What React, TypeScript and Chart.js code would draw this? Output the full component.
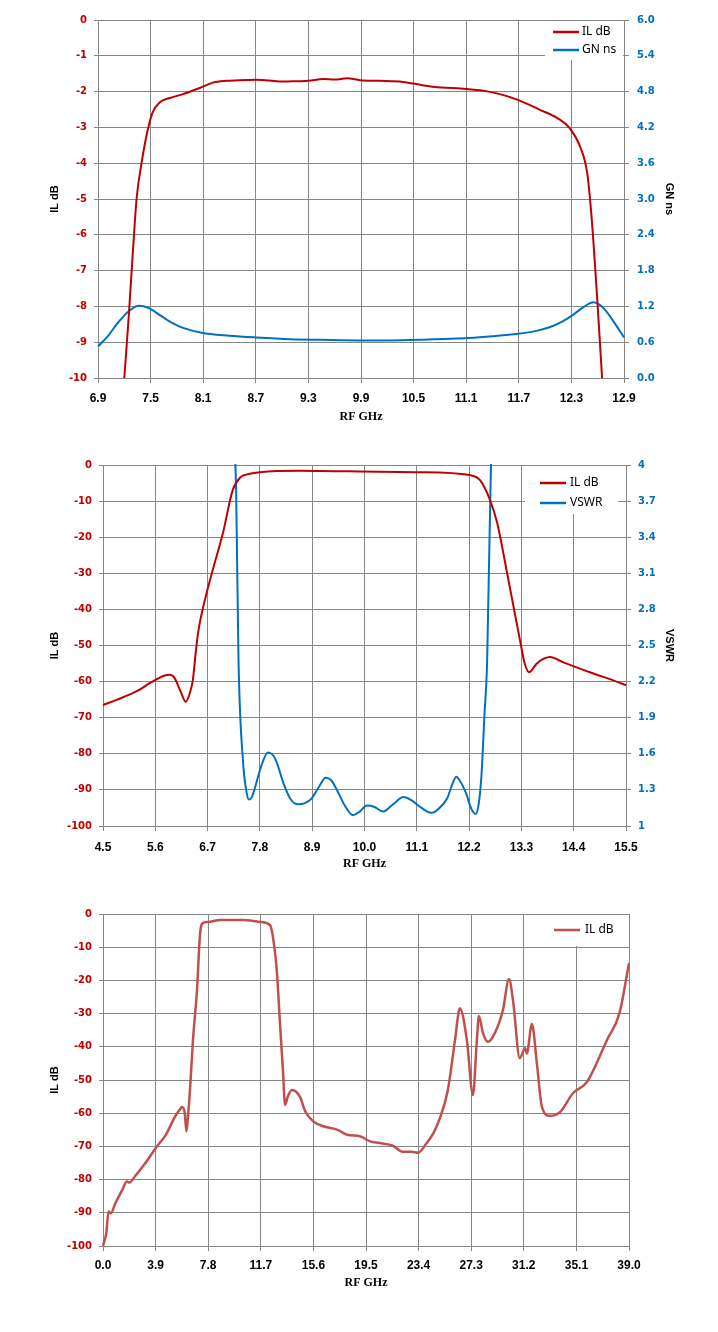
import { useEffect, useRef } from "react";
import { Chart, registerables } from "chart.js";

Chart.register(...registerables);

// ── Data ───────────────────────────────────────────────────────────────────
// Chart 1: 6.9–12.9 GHz passband, IL (dB, left) and group delay (ns, right)
const IL1_GHZ = [
  7.2, 7.25, 7.3, 7.34, 7.4, 7.46, 7.52, 7.61, 7.72, 7.87, 8.06, 8.21, 8.37, 8.52,
  8.71, 8.85, 9.01, 9.17, 9.3, 9.47, 9.6, 9.74, 9.89, 10.1, 10.38, 10.6, 10.77,
  10.95, 11.11, 11.26, 11.45, 11.69, 11.94, 12.14, 12.28, 12.4, 12.48, 12.53, 12.6, 12.65,
];
const IL1_DB = [
  -10, -8.3, -6.4, -5.0, -3.95, -3.15, -2.6, -2.29, -2.18, -2.07, -1.9, -1.75, -1.7, -1.68,
  -1.67, -1.69, -1.72, -1.71, -1.7, -1.65, -1.66, -1.63, -1.68, -1.7, -1.73, -1.82, -1.88,
  -1.9, -1.93, -1.96, -2.05, -2.23, -2.51, -2.74, -3.02, -3.54, -4.27, -5.5, -8, -10,
];
const GN1_GHZ = [
  6.9, 7.0, 7.13, 7.25, 7.37, 7.48, 7.61, 7.75, 7.87, 8.08, 8.4, 8.7, 9.1, 9.44, 9.9,
  10.22, 10.6, 11.0, 11.4, 11.69, 11.9, 12.05, 12.2, 12.31, 12.45, 12.55, 12.62, 12.68,
  12.78, 12.9,
];
const GN1_NS = [
  0.53, 0.68, 0.93, 1.12, 1.21, 1.17, 1.05, 0.92, 0.84, 0.76, 0.71, 0.68, 0.65, 0.64, 0.63,
  0.63, 0.64, 0.66, 0.7, 0.74, 0.79, 0.85, 0.95, 1.05, 1.2, 1.27, 1.23, 1.15, 0.95, 0.68,
];

// Chart 2: 4.5–15.5 GHz, IL (dB, left) and VSWR (right)
const IL2_GHZ = [
  4.5, 4.8, 5.22, 5.5, 5.8, 5.9, 6.0, 6.14, 6.24, 6.33, 6.39, 6.45, 6.5, 6.65, 6.81,
  7.02, 7.23, 7.4, 7.53, 7.8, 8.64, 9.34, 9.9, 11.1, 12.22, 12.43, 12.64, 12.79, 13.0,
  13.16, 13.27, 13.37, 13.46, 13.63, 13.9, 14.17, 14.8, 15.22, 15.5,
];
const IL2_DB = [
  -66.5, -65, -62.6, -60.3, -58.3, -58.1, -58.9, -63, -65.6, -63, -59.5, -52, -46.5, -37,
  -29, -19, -6.9, -3.3, -2.6, -2.0, -1.6, -1.7, -1.8, -2.0, -2.8, -4.2, -9.7, -16, -30,
  -41, -48.5, -55, -57.4, -54.9, -53.2, -54.6, -57.7, -59.6, -61,
];
const VSWR2_GHZ = [
  7.24, 7.3, 7.35, 7.44, 7.52, 7.57, 7.63, 7.69, 7.83, 7.97, 8.12, 8.31, 8.45, 8.6, 8.75,
  8.89, 9.05, 9.18, 9.3, 9.42, 9.6, 9.76, 9.9, 10.05, 10.2, 10.39, 10.6, 10.82, 11.0,
  11.2, 11.4, 11.55, 11.74, 11.85, 11.93, 12.0, 12.13, 12.25, 12.34, 12.4, 12.46, 12.52,
  12.58, 12.66, 12.7,
];
const VSWR2 = [
  4.3, 3.79, 2.38, 1.56, 1.28, 1.22, 1.24, 1.31, 1.5, 1.61, 1.56, 1.34, 1.22, 1.18, 1.19,
  1.23, 1.33, 1.4, 1.38, 1.3, 1.16, 1.09, 1.12, 1.17, 1.16, 1.12, 1.18, 1.24, 1.21,
  1.15, 1.11, 1.14, 1.23, 1.35, 1.41, 1.38, 1.28, 1.14, 1.1, 1.18, 1.42, 1.9,
  2.38, 4.0, 4.3,
];

// Chart 3: wideband 0–39 GHz, IL (dB)
const IL3_GHZ = [
  0.0, 0.24, 0.41, 0.58, 0.92, 1.43, 1.77, 1.94, 2.45, 3.13, 3.98, 4.66, 5.34, 5.68,
  5.86, 6.05, 6.19, 6.32, 6.45, 6.67, 6.97, 7.19, 7.41, 7.8, 8.67, 10.4, 11.64, 12.38,
  12.6, 12.9, 13.12, 13.34, 13.5, 13.7, 14.0, 14.6, 15.0, 15.6, 16.4, 17.4, 18.1, 19.1,
  19.8, 20.5, 21.5, 22.2, 22.85, 23.36, 24.0, 24.5, 24.98, 25.57, 26.1, 26.46, 26.98,
  27.43, 27.72, 27.87, 28.17, 28.54, 29.06, 29.65, 30.1, 30.4, 30.9, 31.3, 31.43, 31.8,
  32.17, 32.54, 33.14, 33.9, 34.84, 35.88, 37.36, 38.3, 39.0,
];
const IL3_DB = [
  -100, -96.2, -89.6, -90.1, -87.1, -83.1, -80.6, -80.9, -78.6, -75.1, -70.1, -66.5, -61,
  -59, -58.1, -59.6, -65.5, -60, -53, -38, -22.9, -6.3, -2.7, -2.4, -1.8, -1.8, -2.4,
  -3.3, -6.9, -17.8, -32.8, -47, -57.5, -55, -53, -55, -59.5, -62.5, -64, -65, -66.5,
  -67, -68.5, -69, -69.8, -71.6, -71.6, -71.9, -69, -66, -61.5, -53, -38, -28.4, -38,
  -54.5, -38, -30.7, -35.8, -38.5, -35.8, -29, -19.6, -26, -43.4, -40.4, -42, -33.1, -45,
  -58, -60.8, -59.6, -54, -50.6, -38, -29.8, -14.8,
];

// ── Style ──────────────────────────────────────────────────────────────────
const RED = "#C00000";
const BLUE = "#0070C0";
const RED3 = "#C0504D";
const GRID = "#868686";
const W = 718;

const TICK_Y = { family: '"DejaVu Sans", Verdana, sans-serif', size: 10, weight: "bold" as const };
const TICK_X = { family: '"Liberation Sans Narrow", "Liberation Sans", Arial, sans-serif', size: 12, weight: "bold" as const };
const TITLE_X = { family: '"Liberation Serif", serif', size: 12, weight: "bold" as const };
const TITLE_Y = { family: '"Liberation Sans", Arial, sans-serif', size: 11, weight: "bold" as const };
const LEGEND_FONT = '12px "Noto Sans", "Liberation Sans", sans-serif';

const pts = (xs: number[], ys: number[]) => xs.map((x, i) => ({ x, y: ys[i] }));

function xAxis(min: number, max: number, step: number, height: number, labelPad: number, titlePad: number) {
  return {
    type: "linear",
    position: "bottom",
    min,
    max,
    afterFit: (s: any) => { s.height = height; },
    ticks: {
      stepSize: step,
      autoSkip: false,
      maxRotation: 0,
      padding: labelPad,
      color: "#000",
      font: TICK_X,
      callback: (v: any) => Number(v).toFixed(1),
    },
    grid: { color: GRID, lineWidth: 1, tickLength: 5 },
    border: { color: GRID },
    title: { display: true, text: "RF GHz", color: "#000", font: TITLE_X, padding: { top: 0, bottom: titlePad } },
  };
}

function leftAxis(min: number, max: number, step: number, width: number, titlePad: number) {
  return {
    type: "linear",
    position: "left",
    min,
    max,
    afterFit: (s: any) => { s.width = width; },
    ticks: {
      stepSize: step,
      padding: 7,
      color: RED,
      font: TICK_Y,
      callback: (v: any) => String(Math.round(Number(v))),
    },
    grid: { color: GRID, lineWidth: 1, tickLength: 4 },
    border: { color: GRID },
    title: { display: true, text: "IL dB", color: "#000", font: TITLE_Y, padding: { top: titlePad, bottom: 0 } },
  };
}

function rightAxis(min: number, max: number, step: number, width: number, title: string, fmt: (v: number) => string, labelPad: number) {
  return {
    type: "linear",
    position: "right",
    min,
    max,
    afterFit: (s: any) => { s.width = width; },
    ticks: { stepSize: step, padding: labelPad, color: BLUE, font: TICK_Y, callback: (v: any) => fmt(Number(v)) },
    grid: { drawOnChartArea: false, color: GRID, lineWidth: 1, tickLength: 5 },
    border: { color: GRID },
    title: { display: true, text: title, color: "#000", font: TITLE_Y, padding: { top: 42, bottom: 0 } },
  };
}

// legend drawn in a white box inside the plot, like the spreadsheet one
function boxLegend(box: { x: number; y: number; w: number; h: number }, lineX: number, textX: number, rowsY: number[]) {
  return {
    id: "boxLegend",
    afterDraw(chart: any) {
      const ctx = chart.ctx as CanvasRenderingContext2D;
      ctx.save();
      ctx.fillStyle = "#fff";
      ctx.fillRect(box.x, box.y, box.w, box.h);
      chart.data.datasets.forEach((ds: any, i: number) => {
        const y = rowsY[i];
        ctx.strokeStyle = ds.borderColor;
        ctx.lineWidth = 2.5;
        ctx.beginPath();
        ctx.moveTo(lineX, y);
        ctx.lineTo(lineX + 26, y);
        ctx.stroke();
        ctx.fillStyle = "#000";
        ctx.font = LEGEND_FONT;
        ctx.textBaseline = "middle";
        ctx.textAlign = "left";
        ctx.fillText(ds.label, textX, y);
      });
      ctx.restore();
    },
  };
}

const line = (label: string, data: any[], color: string, axis: string, width = 2) => ({
  label,
  data,
  borderColor: color,
  backgroundColor: color,
  borderWidth: width,
  yAxisID: axis,
  pointRadius: 0,
  cubicInterpolationMode: "monotone",
  clip: 1,
});

const baseOptions = (top: number, right: number, scales: any) => ({
  animation: false,
  responsive: false,
  layout: { padding: { top, left: 0, right, bottom: 0 } },
  plugins: { legend: { display: false }, tooltip: { enabled: false } },
  scales,
});

// ── Canvas wrapper ─────────────────────────────────────────────────────────
function PlotCanvas({ top, height, build }: { top: number; height: number; build: () => any }) {
  const canvasRef = useRef<HTMLCanvasElement>(null);

  useEffect(() => {
    if (!canvasRef.current) return;
    const chart = new Chart(canvasRef.current, build());
    return () => { chart.destroy(); };
  }, [build]);

  return (
    <canvas
      ref={canvasRef}
      width={W}
      height={height}
      style={{ position: "absolute", left: 0, top, display: "block" }}
    />
  );
}

const H1 = 440;
const H2 = 440;
const H3 = 442;

const buildChart1 = () => ({
  type: "line",
  data: {
    datasets: [
      line("IL dB", pts(IL1_GHZ, IL1_DB), RED, "yL"),
      line("GN ns", pts(GN1_GHZ, GN1_NS), BLUE, "yR"),
    ],
  },
  options: baseOptions(20, 0, {
    x: xAxis(6.9, 12.9, 0.6, H1 - 378, 8, 16),
    yL: leftAxis(-10, 0, 1, 98, 48),
    yR: rightAxis(0, 6, 0.6, 94, "GN ns", (v) => v.toFixed(1), 8),
  }),
  plugins: [boxLegend({ x: 545, y: 21, w: 78, h: 39 }, 553, 582, [32, 50])],
});

const buildChart2 = () => ({
  type: "line",
  data: {
    datasets: [
      line("IL dB", pts(IL2_GHZ, IL2_DB), RED, "yL"),
      line("VSWR", pts(VSWR2_GHZ, VSWR2), BLUE, "yR"),
    ],
  },
  options: baseOptions(25, 0, {
    x: xAxis(4.5, 15.5, 1.1, H2 - 386, 9, 9),
    yL: leftAxis(-100, 0, 10, 103, 48),
    yR: rightAxis(1, 4, 0.3, 92, "VSWR", (v) => String(Number(v.toFixed(1))), 7),
  }),
  plugins: [boxLegend({ x: 525, y: 26, w: 93, h: 48 }, 540, 570, [43, 63])],
});

const buildChart3 = () => ({
  type: "line",
  data: {
    datasets: [line("IL dB", pts(IL3_GHZ, IL3_DB), RED3, "yL", 2.5)],
  },
  options: baseOptions(24, 89, {
    x: xAxis(0, 39, 3.9, H3 - 356, 7, 42),
    yL: leftAxis(-100, 0, 10, 103, 48),
  }),
  plugins: [boxLegend({ x: 545, y: 25, w: 83, h: 31 }, 554, 585, [40])],
});

// ── Page ───────────────────────────────────────────────────────────────────
export default function App() {
  return (
    <div style={{ position: "absolute", left: 0, top: 0, width: W, height: 1332, background: "#fff" }}>
      <PlotCanvas top={0} height={H1} build={buildChart1} />
      <PlotCanvas top={440} height={H2} build={buildChart2} />
      <PlotCanvas top={890} height={H3} build={buildChart3} />
    </div>
  );
}
